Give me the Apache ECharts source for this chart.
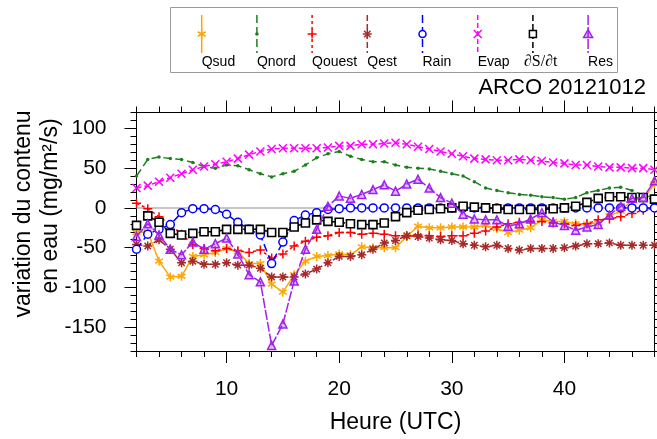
<!DOCTYPE html>
<html><head><meta charset="utf-8">
<script src="https://cdn.jsdelivr.net/npm/echarts@6/dist/echarts.min.js"></script>
<style>html,body{margin:0;padding:0;background:#fff}#c{width:657px;height:439px}</style>
</head><body><div id="c"></div>
<script>
// ---- data ----
const hours = [2,3,4,5,6,7,8,9,10,11,12,13,14,15,16,17,18,19,20,21,22,23,24,25,26,27,28,29,30,31,32,33,34,35,36,37,38,39,40,41,42,43,44,45,46,47,48];
const qsud   = [-31,-30,-67,-87,-86,-61,-59,-56,-51,-55, -70,-70,-96,-106,-84,-67,-61,-60,-58,-59, -49,-50,-50,-50,-36,-23,-25,-25,-24,-24, -24,-22,-26,-31,-28,-25,-15,-17,-17,-20, -20,-19,-10,-4,10,11,30];
const qnord  = [40,61,64,62,61,57,52,50,54,53, 48,43,39,43,46,54,63,68,71,65, 61,58,58,54,51,50,49,46,43,40, 33,25,22,19,17,16,14,13,11,13, 19,22,25,26,22,16,13];
const qouest = [6,-1,-11,-21,-33,-46,-51,-54,-51,-54, -56,-53,-63,-58,-48,-42,-37,-35,-31,-31, -33,-32,-33,-35,-35,-34,-35,-36,-35,-35, -32,-29,-24,-20,-18,-17,-17,-19,-20,-22, -20,-15,-14,-11,-7,-3,0];
const qest   = [-46,-48,-40,-52,-69,-67,-71,-71,-69,-72, -72,-76,-87,-87,-87,-83,-77,-69,-61,-61, -59,-52,-44,-41,-35,-36,-38,-40,-41,-45, -47,-49,-47,-51,-53,-51,-51,-51,-50,-48, -45,-45,-44,-47,-47,-47,-47];
const rain   = [-52,-33,-27,-21,-6,-1,-1,-2,-8,-18, -27,-34,-70,-43,-16,-9,-6,-2,-1,0, 0,0,0,0,0,0,0,0,0,0, 0,0,0,0,0,0,0,0,0,0, 0,0,0,0,0,0,0];
const evap   = [25,28,33,38,43,48,52,55,58,62, 67,71,74,75,75,75,75,76,78,78, 80,80,81,82,80,77,74,71,68,65, 62,61,60,60,61,60,59,57,56,54, 54,52,51,51,50,50,48];
const dsdt   = [-22,-10,-18,-32,-34,-32,-30,-30,-27,-27, -27,-27,-31,-31,-24,-19,-15,-17,-18,-20, -21,-21,-19,-11,-6,-3,-2,-1,0,2, 1,0,-1,-2,-2,-2,-2,-1,0,2, 7,12,14,14,13,13,11];
const res    = [-36,-20,-34,-52,-59,-43,-52,-45,-38,-58, -84,-93,-173,-146,-92,-52,-27,2,15,12, 17,23,29,21,30,36,25,13,6,-8, -14,-15,-15,-23,-20,-14,-6,-18,-22,-28, -24,-21,-9,2,12,13,34];

const seriesNames = ['Qsud','Qnord','Qouest','Qest','Rain','Evap','\u2202S/\u2202t','Res'];
const seriesValues = [qsud,qnord,qouest,qest,rain,evap,dsdt,res];
const xMinorStep = 2;
const xMajorTicks = [10,20,30,40];
const yMinorStep = 10;
const yMajorTicks = [-150,-100,-50,0,50,100];
const titleText = 'ARCO 20121012';
const xTitle = 'Heure (UTC)';
const yTitle1 = 'variation du contenu';
const yTitle2 = 'en eau (mg/m\u00b2/s)';

// ---- styles ----
const FONT = 'Liberation Sans';
// marker strokes as segments in a 20x20 box
const SEG = {
  ast6: [[10,0,10,20],[1.34,5,18.66,15],[1.34,15,18.66,5]],
  ast8: [[10,0,10,20],[0,10,20,10],[2.93,2.93,17.07,17.07],[2.93,17.07,17.07,2.93]],
  plus: [[10,0,10,20],[0,10,20,10]],
  x:    [[0,0,20,20],[0,20,20,0]]
};
function segPath(segs){ return 'path://' + segs.map(s=>'M'+s[0]+','+s[1]+'L'+s[2]+','+s[3]).join(''); }
const styles = [
  {color:'#FFA500', dash:'solid', sym:'ast6', size:9},
  {color:'#1E7F1E', dash:[8,4], sym:'dot', size:3.5},
  {color:'#FF0000', dash:[3,3], sym:'plus', size:9},
  {color:'#A52A2A', dash:[6,3], sym:'ast8', size:9},
  {color:'#0000FF', dash:[8,4], sym:'circle', size:8},
  {color:'#FF00FF', dash:[5,3], sym:'x', size:8},
  {color:'#000000', dash:[6,3], sym:'rect', size:8},
  {color:'#A020F0', dash:[10,2], sym:'tri', size:8}
];

function symbolOpts(st){
  const c = st.color;
  if (SEG[st.sym]) return {symbol:segPath(SEG[st.sym]), symbolKeepAspect:true,
    itemStyle:{color:'rgba(0,0,0,0)', borderColor:c, borderWidth:1.5}};
  if (st.sym==='dot') return {symbol:'circle', itemStyle:{color:c, borderWidth:0}};
  if (st.sym==='circle') return {symbol:'circle', itemStyle:{color:'#fff', borderColor:c, borderWidth:1.5}};
  if (st.sym==='rect') return {symbol:'rect', itemStyle:{color:'#fff', borderColor:c, borderWidth:1.6}};
  return {symbol:'triangle', itemStyle:{color:'rgba(160,32,240,0.3)', borderColor:c, borderWidth:1.5}};
}

const series = seriesNames.map((name,k)=>{
  const st = styles[k];
  const s = Object.assign({
    type:'line', name, xAxisIndex:0, yAxisIndex:0,
    data: hours.map((h,i)=>[h, seriesValues[k][i]]),
    showAllSymbol:true, symbolSize:st.size, z:3+k,
    lineStyle:{color:st.color, width:1.5, type:st.dash},
    emphasis:{disabled:true}, animation:false
  }, symbolOpts(st));
  if (k===0) s.markLine = {silent:true, symbol:'none', label:{show:false}, animation:false,
    lineStyle:{color:'#b5b5b5', width:1.5, type:'solid'}, data:[{yAxis:0}]};
  return s;
});

const axisBase = {type:'value', splitLine:{show:false},
  axisLine:{show:true, onZero:false, lineStyle:{color:'#000', width:1}}};
const tickStyle = {color:'#000', width:1};
function xAx(pos, major){
  const a = Object.assign({}, axisBase, {min:hours[0], max:hours[hours.length-1], position:pos});
  if (major){
    a.axisTick = {show:true, inside:false, length:12, customValues:xMajorTicks, lineStyle:tickStyle};
    a.axisLabel = {show:pos==='bottom', customValues:xMajorTicks, fontSize:21, fontFamily:FONT, color:'#000', margin:28};
    if (pos==='bottom'){ a.name = xTitle; a.nameLocation='middle'; a.nameGap=60;
      a.nameTextStyle={fontSize:23, fontFamily:FONT, color:'#000'}; }
  } else {
    a.interval = xMinorStep;
    a.axisTick = {show:true, inside:false, length:6, lineStyle:tickStyle};
    a.axisLabel = {show:false};
  }
  return a;
}
function yAx(pos, major){
  const a = Object.assign({}, axisBase, {min:-180, max:120, position:pos});
  if (major){
    a.axisTick = {show:true, inside:false, length:12, customValues:yMajorTicks, lineStyle:tickStyle};
    a.axisLabel = {show:pos==='left', customValues:yMajorTicks, fontSize:21, fontFamily:FONT, color:'#000', margin:30};
  } else {
    a.interval = yMinorStep;
    a.axisTick = {show:true, inside:false, length:6, lineStyle:tickStyle};
    a.axisLabel = {show:false};
  }
  return a;
}

// legend graphics
const legendX0 = 201.7, legendDX = 55.2;
function legendMarker(st, cx, cy){
  const c = st.color, r = st.size/2;
  const els = [];
  if (SEG[st.sym]){
    const sc = 2*r/20;
    SEG[st.sym].forEach(s=>els.push({type:'line',
      shape:{x1:cx-r+s[0]*sc, y1:cy-r+s[1]*sc, x2:cx-r+s[2]*sc, y2:cy-r+s[3]*sc},
      style:{stroke:c, lineWidth:1.5}}));
  } else if (st.sym==='dot'){
    els.push({type:'circle', shape:{cx, cy, r:1.8}, style:{fill:c}});
  } else if (st.sym==='circle'){
    els.push({type:'circle', shape:{cx, cy, r:3.5}, style:{fill:'#fff', stroke:c, lineWidth:1.5}});
  } else if (st.sym==='rect'){
    els.push({type:'rect', shape:{x:cx-3.5, y:cy-3.5, width:7, height:7}, style:{fill:'#fff', stroke:c, lineWidth:1.5}});
  } else {
    els.push({type:'polygon', shape:{points:[[cx,cy-4.5],[cx+4.5,cy+3.5],[cx-4.5,cy+3.5]]}, style:{fill:'rgba(160,32,240,0.3)', stroke:c, lineWidth:1.5}});
  }
  return els;
}
const graphic = [
  {type:'rect', shape:{x:170.5, y:7.5, width:447, height:65}, style:{fill:'#fff', stroke:'#9a9a9a', lineWidth:1}, z:0},
  {type:'text', x:646, y:88, style:{text:titleText, fontSize:22, fontFamily:FONT, fill:'#000', align:'right', verticalAlign:'middle'}},
  {type:'text', x:24, y:214, rotation:Math.PI/2, style:{text:yTitle1, fontSize:23, fontFamily:FONT, fill:'#000', align:'center', verticalAlign:'middle'}},
  {type:'text', x:51, y:206, rotation:Math.PI/2, style:{text:yTitle2, fontSize:23, fontFamily:FONT, fill:'#000', align:'center', verticalAlign:'middle'}}
];
seriesNames.forEach((name,k)=>{
  const st = styles[k];
  const lx = legendX0 + k*legendDX;
  graphic.push({type:'line', shape:{x1:lx, y1:15, x2:lx, y2:53},
    style:{stroke:st.color, lineWidth:1.5, lineDash: st.dash==='solid'?null:st.dash}, z:1});
  legendMarker(st, lx, 34).forEach(e=>{e.z=2; graphic.push(e);});
  const isMath = name.indexOf('\u2202')>=0;
  graphic.push({type:'text', x: isMath ? lx-9 : lx, y:62, z:2,
    style:{text:name, fontSize: isMath?16:14, fontFamily: isMath?'Liberation Serif':FONT, fill:'#000', align:'left', verticalAlign:'middle'}});
});

const chart = echarts.init(document.getElementById('c'), null, {renderer:'canvas'});
chart.setOption({
  animation:false,
  backgroundColor:'#fff',
  grid:{left:136.5, right:2.5, top:112.5, bottom:87, containLabel:false},
  xAxis:[xAx('bottom',false), xAx('bottom',true), xAx('top',false), xAx('top',true)],
  yAxis:[yAx('left',false), yAx('left',true), yAx('right',false), yAx('right',true)],
  series,
  graphic
});
</script>
</body></html>
